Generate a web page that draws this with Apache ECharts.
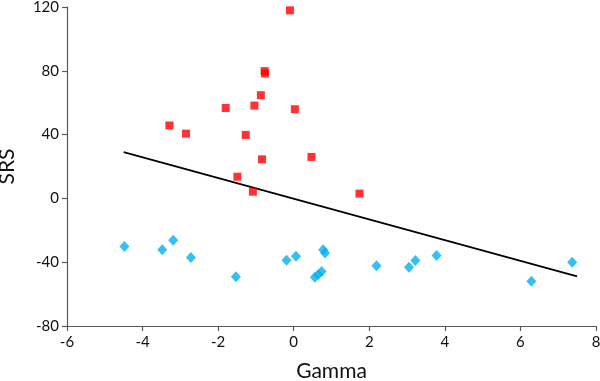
<!DOCTYPE html>
<html>
<head>
<meta charset="utf-8">
<script src="https://cdn.jsdelivr.net/npm/echarts@6/dist/echarts.min.js"></script>
<style>
html,body{margin:0;padding:0;background:#fff;}
#chart{width:600px;height:381px;}
</style>
</head>
<body>
<div id="chart"></div>
<script>
// Red squares (Gamma, SRS)
var redX = [-3.29, -2.85, -1.80, -1.27, -1.04, -0.87, -0.77, -0.76, -0.84, -1.49, -1.08, -0.10, 0.03, 0.47, 1.74];
var redY = [45.7, 40.6, 56.7, 39.8, 58.2, 64.7, 79.8, 78.3, 24.5, 13.6, 4.2, 117.9, 55.9, 26.0, 3.0];
// Blue diamonds (Gamma, SRS)
var blueX = [-4.48, -3.48, -3.19, -2.72, -1.53, -0.19, 0.06, 0.78, 0.83, 0.56, 0.65, 0.74, 2.19, 3.05, 3.22, 3.78, 6.29, 7.37];
var blueY = [-30.2, -32.2, -26.2, -37.1, -49.2, -38.8, -36.2, -32.2, -34.3, -49.4, -47.7, -45.9, -42.3, -43.1, -38.9, -35.8, -51.9, -40.0];
// Trend line endpoints
var trendX = [-4.5, 7.5];
var trendY = [29.0, -48.9];
// Axis settings
var xMin = -6, xMax = 8, xStep = 2;
var yMin = -80, yMax = 120, yStep = 40;
var xTitle = 'Gamma';
var yTitle = 'SRS';

function zip(a, b) { return a.map(function (v, i) { return [v, b[i]]; }); }

var font = 'Lato, "Open Sans", sans-serif';
var axisColor = '#595959';
var chart = echarts.init(document.getElementById('chart'), null, {renderer: 'canvas'});
chart.setOption({
  animation: false,
  backgroundColor: '#fff',
  grid: {left: 67, right: 4, top: 7, bottom: 55, containLabel: false, outerBoundsMode: 'none'},
  xAxis: {
    type: 'value', min: xMin, max: xMax, interval: xStep,
    splitLine: {show: false},
    axisLine: {onZero: false, lineStyle: {color: axisColor, width: 1.2}},
    axisTick: {show: true, inside: false, length: 5, lineStyle: {color: axisColor, width: 1.2}},
    axisLabel: {color: '#111', fontSize: 15, fontFamily: font, margin: 9},
    name: xTitle, nameLocation: 'middle', nameGap: 35,
    nameTextStyle: {color: '#111', fontSize: 21, fontFamily: font}
  },
  yAxis: {
    type: 'value', min: yMin, max: yMax, interval: yStep,
    splitLine: {show: false},
    axisLine: {show: true, onZero: false, lineStyle: {color: axisColor, width: 1.2}},
    axisTick: {show: true, inside: false, length: 5, lineStyle: {color: axisColor, width: 1.2}},
    axisLabel: {color: '#111', fontSize: 15, fontFamily: font, margin: 8},
    name: yTitle, nameLocation: 'middle', nameGap: 49, nameRotate: 90,
    nameTextStyle: {color: '#111', fontSize: 21, fontFamily: font}
  },
  series: [
    {
      type: 'line', data: zip(trendX, trendY), symbol: 'none',
      lineStyle: {color: '#000', width: 1.6}, z: 1, silent: true
    },
    {
      type: 'scatter', data: zip(redX, redY), symbol: 'rect', symbolSize: 8,
      itemStyle: {color: '#ff0000'}, z: 3
    },
    {
      type: 'scatter', data: zip(blueX, blueY), symbol: 'diamond', symbolSize: [10, 11],
      itemStyle: {color: '#00b0f0'}, z: 3
    }
  ]
});
</script>
</body>
</html>
